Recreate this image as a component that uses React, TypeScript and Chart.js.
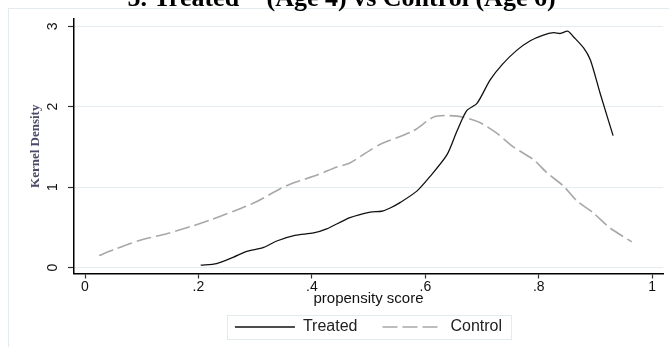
import React, { useEffect, useRef } from "react";
import { Chart, registerables } from "chart.js";

Chart.register(...registerables);

const titleText = '5. Treated"  (Age 4) vs Control (Age 6)';
const xAxisTitle = "propensity score";
const yAxisTitle = "Kernel Density";
const seriesNames = ["Treated", "Control"];

const xTickValues = [0, 0.2, 0.4, 0.6, 0.8, 1];
const xTickLabels = ["0", ".2", ".4", ".6", ".8", "1"];
const yTickValues = [0, 1, 2, 3];
const yTickLabels = ["0", "1", "2", "3"];

const treatedX = [0.204, 0.232, 0.262, 0.285, 0.315, 0.338, 0.37, 0.403, 0.426, 0.467, 0.503, 0.523, 0.538, 0.556, 0.585, 0.608, 0.638, 0.656, 0.673, 0.691, 0.714, 0.735, 0.761, 0.785, 0.808, 0.826, 0.838, 0.851, 0.861, 0.879, 0.891, 0.908, 0.931];
const treatedY = [0.03, 0.05, 0.13, 0.2, 0.25, 0.33, 0.4, 0.43, 0.48, 0.62, 0.69, 0.7, 0.74, 0.81, 0.95, 1.13, 1.4, 1.7, 1.95, 2.04, 2.33, 2.52, 2.7, 2.82, 2.89, 2.92, 2.91, 2.94, 2.87, 2.73, 2.58, 2.17, 1.64];

const controlX = [0.025, 0.053, 0.097, 0.144, 0.191, 0.22, 0.262, 0.303, 0.344, 0.367, 0.409, 0.444, 0.467, 0.503, 0.52, 0.579, 0.614, 0.638, 0.667, 0.697, 0.726, 0.755, 0.791, 0.814, 0.844, 0.867, 0.896, 0.926, 0.964];
const controlY = [0.15, 0.23, 0.34, 0.42, 0.52, 0.59, 0.7, 0.82, 0.98, 1.05, 1.15, 1.25, 1.3, 1.46, 1.53, 1.7, 1.87, 1.89, 1.87, 1.8, 1.67, 1.5, 1.34, 1.18, 1.01, 0.83, 0.68, 0.49, 0.32];

const toPoints = (xs: number[], ys: number[]) => xs.map((x, i) => ({ x, y: ys[i] }));

const framePlugin = {
  id: "frame",
  beforeDraw(chart: any) {
    const ctx = chart.ctx;
    ctx.save();
    ctx.strokeStyle = "#e3ebee";
    ctx.lineWidth = 1;
    ctx.strokeRect(8.5, 8.5, chart.width + 20, chart.height + 20);
    ctx.restore();
  },
};

const legendBoxPlugin = {
  id: "legendBox",
  afterDraw(chart: any) {
    const lg = chart.legend;
    const hb = lg && lg.legendHitBoxes;
    if (!hb || !hb.length) return;
    let l = Infinity, r = -Infinity, t = Infinity, b = -Infinity;
    for (const h of hb) {
      l = Math.min(l, h.left);
      r = Math.max(r, h.left + h.width);
      t = Math.min(t, h.top);
      b = Math.max(b, h.top + h.height);
    }
    const ctx = chart.ctx;
    ctx.save();
    ctx.strokeStyle = "#e3ebee";
    ctx.lineWidth = 1;
    const x0 = Math.round(l - 8) + 0.5;
    const y0 = Math.round(t - 4) + 0.5;
    ctx.strokeRect(x0, y0, Math.round(r + 9 - l + 8), Math.round(b + 4 - t + 4));
    ctx.restore();
  },
};

export default function App() {
  const ref = useRef<HTMLCanvasElement | null>(null);

  useEffect(() => {
    if (!ref.current) return;
    const baseGen = (Chart as any).defaults.plugins.legend.labels.generateLabels;
    const chart = new Chart(ref.current, {
      type: "line",
      data: {
        datasets: [
          {
            label: seriesNames[0],
            data: toPoints(treatedX, treatedY),
            borderColor: "#111111",
            backgroundColor: "#111111",
            borderWidth: 1.3,
            pointRadius: 0,
            tension: 0.25,
            fill: false,
          },
          {
            label: seriesNames[1],
            data: toPoints(controlX, controlY),
            borderColor: "#a8a8a8",
            backgroundColor: "#a8a8a8",
            borderWidth: 1.6,
            borderDash: [15, 5],
            pointRadius: 0,
            tension: 0.25,
            fill: false,
          },
        ],
      },
      plugins: [framePlugin, legendBoxPlugin],
      options: {
        responsive: false,
        devicePixelRatio: 1,
        animation: false,
        layout: { padding: { left: 20, right: 6, top: 0, bottom: 2 } },
        plugins: {
          title: {
            display: true,
            text: titleText,
            color: "#000",
            font: { family: "Liberation Serif", size: 26, weight: "bold" },
            padding: { top: -16, bottom: 3.8 },
            fullSize: true,
          },
          legend: {
            position: "bottom",
            fullSize: false,
            labels: {
              usePointStyle: true,
              pointStyle: "line",
              pointStyleWidth: 60,
              padding: 25,
              color: "#222",
              font: { family: "Liberation Sans", size: 16 },
              generateLabels: (ch: any) => {
                const items = baseGen(ch);
                return items.map((it: any) => {
                  const ds = ch.data.datasets[it.datasetIndex];
                  return {
                    ...it,
                    lineDash: ds.borderDash || [],
                    lineWidth: ds.borderWidth,
                    strokeStyle: ds.borderColor,
                    fillStyle: ds.borderColor,
                  };
                });
              },
            },
          },
          tooltip: { enabled: false },
        },
        scales: {
          x: {
            type: "linear",
            min: -0.0194,
            max: 1.019,
            afterBuildTicks: (s: any) => {
              s.ticks = xTickValues.map((v) => ({ value: v }));
            },
            afterFit: (s: any) => {
              s.height = 20.5;
            },
            ticks: {
              autoSkip: false,
              maxRotation: 0,
              padding: 0,
              color: "#111",
              font: { family: "Liberation Sans", size: 14 },
              callback: (v: any) => {
                const i = xTickValues.indexOf(Number(v));
                return i >= 0 ? xTickLabels[i] : "";
              },
            },
            grid: { drawOnChartArea: false, tickLength: 5, tickColor: "#333", tickWidth: 1.2 },
            border: { display: true, color: "#000", width: 1.5 },
            title: {
              display: true,
              text: xAxisTitle,
              color: "#111",
              font: { family: "Liberation Sans", size: 15 },
              padding: { top: 0, bottom: -13.5 },
            },
          },
          y: {
            type: "linear",
            min: -0.074,
            max: 3.09,
            afterBuildTicks: (s: any) => {
              s.ticks = yTickValues.map((v) => ({ value: v }));
            },
            afterFit: (s: any) => {
              s.width = 54;
              s.paddingTop = 0;
              s.paddingBottom = 0;
            },
            ticks: {
              autoSkip: false,
              minRotation: 90,
              maxRotation: 90,
              crossAlign: "center",
              padding: 11,
              color: "#111",
              font: { family: "Liberation Sans", size: 14 },
              callback: (v: any) => {
                const i = yTickValues.indexOf(Number(v));
                return i >= 0 ? yTickLabels[i] : "";
              },
            },
            grid: { color: "#e4edf0", lineWidth: 1, tickColor: "#333", tickLength: 6, tickWidth: 1.2 },
            border: { display: true, color: "#000", width: 1.5 },
            title: {
              display: true,
              text: yAxisTitle,
              color: "#4a4a68",
              font: { family: "Liberation Serif", size: 13, weight: "bold" },
              padding: { top: 7.8, bottom: 0 },
            },
          },
        },
      },
    } as any);
    return () => chart.destroy();
  }, []);

  return (
    <div style={{ position: "fixed", left: 0, top: 0, width: 669, height: 347, background: "#fff" }}>
      <canvas ref={ref} width={669} height={347} style={{ display: "block", width: 669, height: 347 }} />
    </div>
  );
}
